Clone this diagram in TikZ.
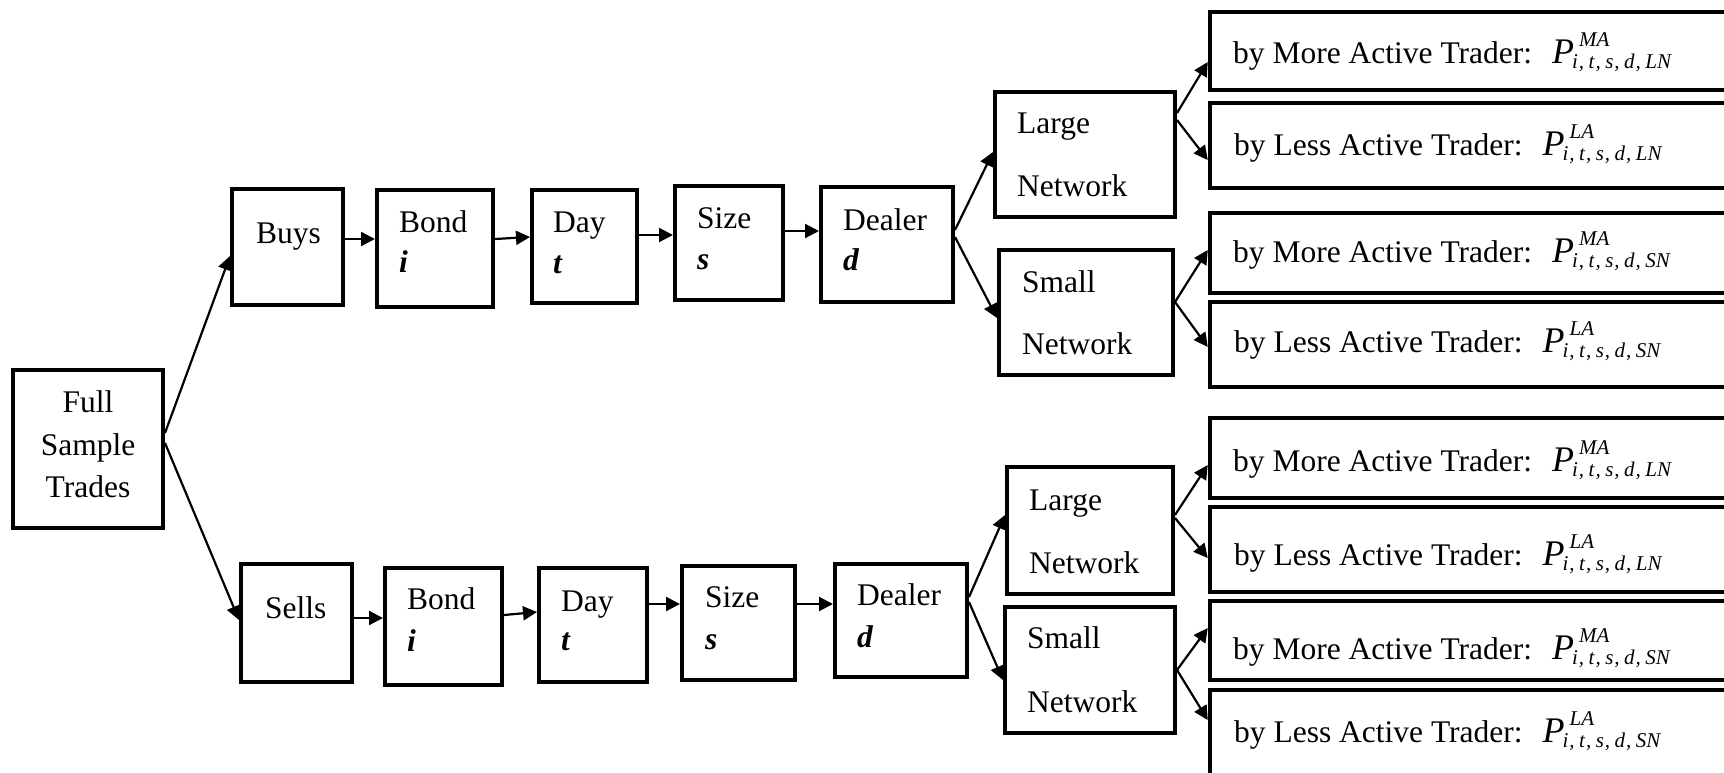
\documentclass[tikz,border=0pt]{standalone}
\usepackage{fontspec}
\setmainfont{Liberation Serif}
\usetikzlibrary{arrows.meta}
\newcommand\scr{\fontsize{21}{21}\selectfont\itshape}
\newcommand\Pex[2]{{\fontsize{36}{36}\selectfont\itshape P}\rlap{\kern5pt\raisebox{17pt}{\scr #1}}\kern-2pt\raisebox{-5.5pt}{\scr i\kern1pt,\kern4.5pt t\kern1pt,\kern4.5pt s\kern1pt,\kern4.5pt d\kern1pt,\kern4.5pt #2}}
\newcommand\bi[1]{\textbf{\textit{#1}}}
\tikzset{
  box/.style={draw, line width=4pt, inner sep=0pt},
  rbox/.style={draw, line width=4.5pt, inner sep=0pt},
  txt/.style={inner sep=0pt, anchor=base west, font=\fontsize{31.5}{38}\selectfont},
  ctxt/.style={inner sep=0pt, anchor=base, font=\fontsize{31.5}{38}\selectfont},
  arr/.style={line width=2.2pt, -{Triangle[length=14pt,width=14pt]}},
}
\newcommand\mkbox[6][box]{\node[#1, minimum width={#5-#3}, minimum height={#6-#4}] (#2) at ({(#3+#5)/2},{(#4+#6)/2}) {};}
\begin{document}
\begin{tikzpicture}[x=1pt, y=-1pt]
\useasboundingbox (0,0) rectangle (1724,772);
\clip (0,0) rectangle (1724,772);
% boxes
\mkbox{full}{13}{370}{163}{528}
\mkbox{buys}{232}{189}{343}{305}
\mkbox{bondA}{377}{190}{493}{307}
\mkbox{dayA}{532}{190}{637}{303}
\mkbox{sizeA}{675}{186}{783}{300}
\mkbox{dealerA}{821}{187}{953}{302}
\mkbox{largeA}{995}{92}{1175}{217}
\mkbox{smallA}{999}{250}{1173}{375}
\mkbox[rbox]{rA}{1210}{12}{1745}{90}
\mkbox[rbox]{rB}{1210}{103}{1745}{188}
\mkbox[rbox]{rC}{1210}{213}{1745}{293}
\mkbox[rbox]{rD}{1210}{302}{1745}{387}
\mkbox{sells}{241}{564}{352}{682}
\mkbox{bondB}{385}{568}{502}{685}
\mkbox{dayB}{539}{568}{647}{682}
\mkbox{sizeB}{682}{566}{795}{680}
\mkbox{dealerB}{835}{564}{967}{677}
\mkbox{largeB}{1007}{467}{1173}{594}
\mkbox{smallB}{1005}{607}{1175}{733}
\mkbox[rbox]{rE}{1210}{418}{1745}{498}
\mkbox[rbox]{rF}{1210}{507}{1745}{592}
\mkbox[rbox]{rG}{1210}{601}{1745}{680}
\mkbox[rbox]{rH}{1210}{690}{1745}{800}
% texts
\node[ctxt] (fullT1) at (88,412) {Full};
\node[ctxt] (fullT2) at (88,455) {Sample};
\node[ctxt] (fullT3) at (88,497) {Trades};
\node[txt] (buysT) at (256,243) {Buys};
\node[txt] (bondAT) at (399,232) {Bond};
\node[txt] (bondAV) at (399,272) {\bi{i}};
\node[txt] (dayAT) at (553,232) {Day};
\node[txt] (dayAV) at (553,273) {\bi{t}};
\node[txt] (sizeAT) at (697,228) {Size};
\node[txt] (sizeAV) at (697,269) {\bi{s}};
\node[txt] (dealerAT) at (843,230) {Dealer};
\node[txt] (dealerAV) at (843,270) {\bi{d}};
\node[txt] (largeAT1) at (1017,133) {Large};
\node[txt] (largeAT2) at (1017,196) {Network};
\node[txt] (smallAT1) at (1022,292) {Small};
\node[txt] (smallAT2) at (1022,354) {Network};
\node[txt] (sellsT) at (265,618) {Sells};
\node[txt] (bondBT) at (407,609) {Bond};
\node[txt] (bondBV) at (407,651) {\bi{i}};
\node[txt] (dayBT) at (561,611) {Day};
\node[txt] (dayBV) at (561,650) {\bi{t}};
\node[txt] (sizeBT) at (705,607) {Size};
\node[txt] (sizeBV) at (705,649) {\bi{s}};
\node[txt] (dealerBT) at (857,605) {Dealer};
\node[txt] (dealerBV) at (857,647) {\bi{d}};
\node[txt] (largeBT1) at (1029,510) {Large};
\node[txt] (largeBT2) at (1029,573) {Network};
\node[txt] (smallBT1) at (1027,648) {Small};
\node[txt] (smallBT2) at (1027,712) {Network};
\node[txt] (rAT) at (1233,63) {by More Active Trader:\hspace{20pt}\Pex{MA}{LN}};
\node[txt] (rBT) at (1234,155) {by Less Active Trader:\hspace{20pt}\Pex{LA}{LN}};
\node[txt] (rCT) at (1233,262) {by More Active Trader:\hspace{20pt}\Pex{MA}{SN}};
\node[txt] (rDT) at (1234,352) {by Less Active Trader:\hspace{20pt}\Pex{LA}{SN}};
\node[txt] (rET) at (1233,471) {by More Active Trader:\hspace{20pt}\Pex{MA}{LN}};
\node[txt] (rFT) at (1234,565) {by Less Active Trader:\hspace{20pt}\Pex{LA}{LN}};
\node[txt] (rGT) at (1233,659) {by More Active Trader:\hspace{20pt}\Pex{MA}{SN}};
\node[txt] (rHT) at (1234,742) {by Less Active Trader:\hspace{20pt}\Pex{LA}{SN}};
% arrows
\draw[arr] (full.east |- 0,433) -- (buys.west |- 0,256);
\draw[arr] (full.east |- 0,443) -- (sells.west |- 0,620);
\draw[arr] (buys.east |- 0,239) -- (bondA.west |- 0,239);
\draw[arr] (bondA.east |- 0,239) -- (dayA.west |- 0,237);
\draw[arr] (dayA.east |- 0,235) -- (sizeA.west |- 0,235);
\draw[arr] (sizeA.east |- 0,231) -- (dealerA.west |- 0,231);
\draw[arr] (dealerA.east |- 0,230) -- (largeA.west |- 0,152);
\draw[arr] (dealerA.east |- 0,237) -- (smallA.west |- 0,318);
\draw[arr] (largeA.east |- 0,113) -- (rA.west |- 0,62);
\draw[arr] (largeA.east |- 0,120) -- (rB.west |- 0,160);
\draw[arr] (smallA.east |- 0,302) -- (rC.west |- 0,250);
\draw[arr] (smallA.east |- 0,302) -- (rD.west |- 0,347);
\draw[arr] (sells.east |- 0,618) -- (bondB.west |- 0,618);
\draw[arr] (bondB.east |- 0,615) -- (dayB.west |- 0,612);
\draw[arr] (dayB.east |- 0,604) -- (sizeB.west |- 0,604);
\draw[arr] (sizeB.east |- 0,604) -- (dealerB.west |- 0,604);
\draw[arr] (dealerB.east |- 0,597) -- (largeB.west |- 0,515);
\draw[arr] (dealerB.east |- 0,602) -- (smallB.west |- 0,680);
\draw[arr] (largeB.east |- 0,515) -- (rE.west |- 0,465);
\draw[arr] (largeB.east |- 0,518) -- (rF.west |- 0,558);
\draw[arr] (smallB.east |- 0,670) -- (rG.west |- 0,628);
\draw[arr] (smallB.east |- 0,670) -- (rH.west |- 0,720);
\end{tikzpicture}
\end{document}
